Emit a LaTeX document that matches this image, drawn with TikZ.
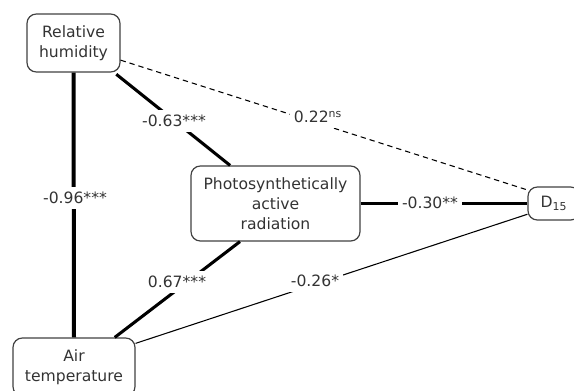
\documentclass[tikz,border=0pt]{standalone}
\usepackage{fontspec}
\setmainfont{DejaVu Sans}
\usetikzlibrary{positioning}
\tikzset{
  box/.style={draw=black!75, line width=0.9pt, rounded corners=7pt, align=center, inner sep=0pt, text=black!80, font=\fontsize{11.7}{15}\selectfont},
  lbl/.style={fill=white, inner xsep=3pt, inner ysep=4pt, text=black!80, font=\fontsize{11.7}{15}\selectfont},
  strong/.style={line width=2.3pt},
  weak/.style={line width=0.8pt},
}

\begin{document}
\begin{tikzpicture}[x=0.75pt,y=-0.75pt]
  \useasboundingbox (0,0) rectangle (574,390);
  \clip (0,0) rectangle (574,390);
  % variables
  \node[box,minimum width=69.75pt,minimum height=43.5pt] (rh) at (73.5,43) {Relative\\humidity};
  \node[box,minimum width=126.75pt,minimum height=56.25pt] (par) at (275.5,203.5) {Photosynthetically\\active\\radiation};
  \node[box,minimum width=39pt,minimum height=24.75pt] (d15) at (554,203.5) {D\textsubscript{15}};
  \node[box,minimum width=91.5pt,minimum height=43.5pt] (at) at (74,367) {Air\\temperature};
  % paths
  \draw[strong,line width=3pt] (rh.south) -- (at.north);
  \draw[strong,shorten <=2pt] (rh.-36) -- (par.140);
  \draw[strong] (at.36) -- (par.-133);
  \draw[strong] (par.east) -- (d15.west);
  \draw[weak,dash pattern=on 4pt off 3pt] (rh.-20) -- (d15.153);
  \draw[weak] (at.21) -- (d15.-158);
  % coefficients
  \node[lbl] (l96) at (75,198) {-0.96***};
  \node[lbl] (l63) at (174,121) {-0.63***};
  \node[lbl] (l22) at (318,117) {0.22\textsuperscript{ns}};
  \node[lbl] (l30) at (430,203) {-0.30**};
  \node[lbl] (l67) at (177,282) {0.67***};
  \node[lbl] (l26) at (315,281) {-0.26*};
\end{tikzpicture}
\end{document}
